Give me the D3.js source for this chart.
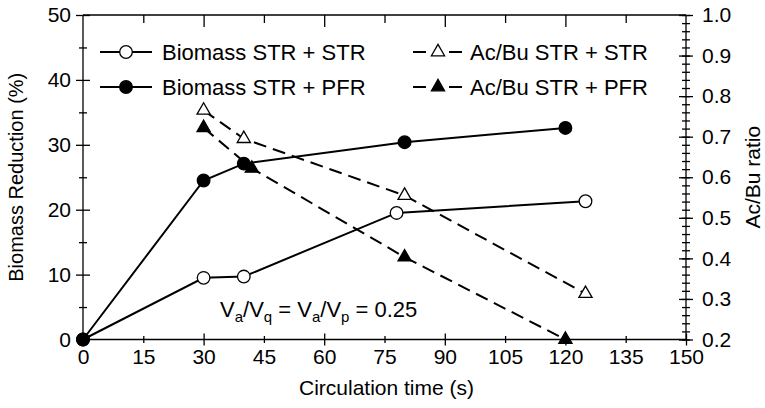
<!DOCTYPE html>
<html lang="en">
<head>
    <meta charset="utf-8">
    <title>Biomass reduction and Ac/Bu ratio</title>
    <style type="text/css">
        body { margin: 0; background: #fff; }
        svg { font-family: "Liberation Sans", Arial, sans-serif; }
        .axis path, .axis line { stroke: #000; stroke-width: 1.3; }
        .axis text { font-size: 21px; fill: #000; }
    </style>
</head>
<body>
   <svg class="chart" width="765" height="408"></svg>

   <script src="https://d3js.org/d3.v7.min.js"></script>
   <script>
        // data
        var bioStrTime = [0, 30, 40, 78, 125];
        var bioStrVal  = [0, 9.5, 9.7, 19.5, 21.3];
        var bioPfrTime = [0, 30, 40, 80, 120];
        var bioPfrVal  = [0, 24.5, 27.1, 30.4, 32.6];
        var acStrTime  = [30, 40, 80, 125];
        var acStrVal   = [0.765, 0.695, 0.555, 0.313];
        var acPfrTime  = [30, 42, 80, 120];
        var acPfrVal   = [0.722, 0.622, 0.403, 0.2];

        var xTicks = [0, 15, 30, 45, 60, 75, 90, 105, 120, 135, 150];
        var yLeftTicks = [0, 10, 20, 30, 40, 50];
        var yRightTicks = [0.2, 0.3, 0.4, 0.5, 0.6, 0.7, 0.8, 0.9, 1.0];

        var svg = d3.select('.chart'),
            m = {left: 83, right: 79, top: 15, bottom: 68.5},
            w = 765 - m.left - m.right,
            h = 408 - m.top - m.bottom;

        var g = svg.append('g').attr('transform', 'translate(' + m.left + ',' + m.top + ')');

        // scales
        var x = d3.scaleLinear().domain([0, 150]).range([0, w]);
        var yL = d3.scaleLinear().domain([0, 50]).range([h, 0]);
        var yR = d3.scaleLinear().domain([0.2, 1.0]).range([h, 0]);

        // ticks crossing the axis line
        function crossTicks(sel, dir, big, small, isMajor) {
            sel.selectAll('.tick line').each(function(d) {
                var s = isMajor(d) ? big : small;
                if (dir === 'h') d3.select(this).attr('y1', -s).attr('y2', s);
                else d3.select(this).attr('x1', -s).attr('x2', s);
            });
        }

        // bottom axis
        var xAx = g.append('g').attr('class', 'axis')
            .attr('transform', 'translate(0,' + h + ')')
            .call(d3.axisBottom(x).tickValues(xTicks).tickSize(0).tickPadding(10).tickFormat(d3.format('d')));
        crossTicks(xAx, 'h', 6, 3.5, function(d) { return d % 30 === 0; });
        xAx.select('.domain').remove();
        xAx.append('line').attr('x1', 0).attr('x2', w).attr('stroke', '#000').attr('stroke-width', 1.3);

        // top axis, ticks inside
        var tAx = g.append('g').attr('class', 'axis')
            .call(d3.axisTop(x).tickValues(xTicks.slice(1, -1)).tickSize(0).tickFormat(''));
        tAx.selectAll('.tick line').attr('y1', 0).attr('y2', function(d) { return d % 30 === 0 ? 12 : 8; });
        tAx.select('.domain').remove();
        tAx.append('line').attr('x1', 0).attr('x2', w).attr('stroke', '#000').attr('stroke-width', 1.3);

        // left axis
        var lAx = g.append('g').attr('class', 'axis')
            .call(d3.axisLeft(yL).ticks(10).tickSize(0).tickPadding(12)
                .tickFormat(function(d) { return d % 10 === 0 ? d : ''; }));
        crossTicks(lAx, 'v', 7, 4, function(d) { return d % 10 === 0; });
        lAx.select('.domain').remove();
        lAx.append('line').attr('y1', 0).attr('y2', h).attr('stroke', '#000').attr('stroke-width', 1.3);

        // right axis, minor ticks every 0.02
        var rMinor = d3.range(0.2, 1.0001, 0.02);
        var rAx = g.append('g').attr('class', 'axis')
            .attr('transform', 'translate(' + w + ',0)')
            .call(d3.axisRight(yR).tickValues(rMinor).tickSize(0).tickFormat(''));
        rAx.selectAll('.tick line').attr('x1', -4).attr('x2', 4);
        rAx.select('.domain').remove();
        var rMaj = g.append('g').attr('class', 'axis')
            .attr('transform', 'translate(' + w + ',0)')
            .call(d3.axisRight(yR).tickValues(yRightTicks).tickSize(0).tickPadding(16).tickFormat(d3.format('.1f')));
        rMaj.selectAll('.tick line').attr('x1', -7).attr('x2', 7);
        rMaj.select('.domain').remove();
        rMaj.append('line').attr('y1', 0).attr('y2', h).attr('stroke', '#000').attr('stroke-width', 1.3);

        // axis titles
        g.append('text').attr('x', w / 2 + 2).attr('y', h + 55).attr('text-anchor', 'middle')
            .style('font-size', '21px').text('Circulation time (s)');
        g.append('text').attr('transform', 'translate(' + (-60) + ',' + (h / 2) + ') rotate(-90)')
            .attr('text-anchor', 'middle').style('font-size', '20px').text('Biomass Reduction (%)');
        g.append('text').attr('transform', 'translate(' + (w + 74) + ',' + (h / 2) + ') rotate(-90)')
            .attr('text-anchor', 'middle').style('font-size', '21px').text('Ac/Bu ratio');

        // series
        function pts(ts, vs) { return ts.map(function(t, i) { return [t, vs[i]]; }); }
        var series = [
            {name: 'Biomass STR + STR', data: pts(bioStrTime, bioStrVal), y: yL, dash: null, shape: 'circle', fill: '#fff'},
            {name: 'Ac/Bu STR + STR', data: pts(acStrTime, acStrVal), y: yR, dash: '13,7', shape: 'triangle', fill: '#fff'},
            {name: 'Ac/Bu STR + PFR', data: pts(acPfrTime, acPfrVal), y: yR, dash: '13,7', shape: 'triangle', fill: '#000'},
            {name: 'Biomass STR + PFR', data: pts(bioPfrTime, bioPfrVal), y: yL, dash: null, shape: 'circle', fill: '#000'}
        ];

        var circleSym = d3.symbol().type(d3.symbolCircle).size(125);
        var triSym = d3.symbol().type(d3.symbolTriangle).size(75);

        series.forEach(function(s) {
            var line = d3.line().x(function(d) { return x(d[0]); }).y(function(d) { return s.y(d[1]); });
            g.append('path').datum(s.data)
                .attr('d', line).attr('fill', 'none').attr('stroke', '#000').attr('stroke-width', 2)
                .attr('stroke-dasharray', s.dash);
        });
        series.forEach(function(s) {
            g.selectAll(null).data(s.data).enter().append('path')
                .attr('d', s.shape === 'circle' ? circleSym : triSym)
                .attr('transform', function(d) { return 'translate(' + x(d[0]) + ',' + s.y(d[1]) + ')'; })
                .attr('fill', s.fill).attr('stroke', '#000').attr('stroke-width', 1.3);
        });

        // legends
        var legend = [
            {s: series[0], lx: 17, ly: 37},
            {s: series[3], lx: 17, ly: 72},
            {s: series[1], lx: 330, ly: 37},
            {s: series[2], lx: 330, ly: 72}
        ];
        legend.forEach(function(l) {
            var lg = g.append('g').attr('transform', 'translate(' + l.lx + ',' + l.ly + ')');
            if (l.s.dash) {
                lg.append('line').attr('x1', 0).attr('x2', 13).attr('stroke', '#000').attr('stroke-width', 2);
                lg.append('line').attr('x1', 36).attr('x2', 49).attr('stroke', '#000').attr('stroke-width', 2);
            } else {
                lg.append('line').attr('x1', 0).attr('x2', 52).attr('stroke', '#000').attr('stroke-width', 2);
            }
            lg.append('path').attr('d', l.s.shape === 'circle' ? circleSym : triSym)
                .attr('transform', 'translate(' + (l.s.dash ? 25 : 26) + ',0)')
                .attr('fill', l.s.fill).attr('stroke', '#000').attr('stroke-width', 1.3);
            lg.append('text').attr('x', l.s.dash ? 57 : 62).attr('y', 8)
                .style('font-size', '22px').text(l.s.name);
        });

        // annotation
        var ann = g.append('text').attr('x', 137).attr('y', 302).style('font-size', '22px');
        ann.append('tspan').text('V');
        ann.append('tspan').attr('dy', 5).style('font-size', '15px').text('a');
        ann.append('tspan').attr('dy', -5).text('/V');
        ann.append('tspan').attr('dy', 5).style('font-size', '15px').text('q');
        ann.append('tspan').attr('dy', -5).text(' = V');
        ann.append('tspan').attr('dy', 5).style('font-size', '15px').text('a');
        ann.append('tspan').attr('dy', -5).text('/V');
        ann.append('tspan').attr('dy', 5).style('font-size', '15px').text('p');
        ann.append('tspan').attr('dy', -5).text(' = 0.25');
   </script>
</body>
</html>
